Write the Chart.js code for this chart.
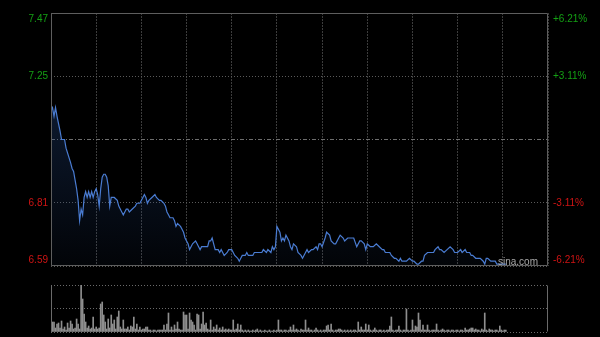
<!DOCTYPE html>
<html><head><meta charset="utf-8">
<script src="https://cdn.jsdelivr.net/npm/chart.js@4.4.1/dist/chart.umd.min.js"></script>
<style>
html,body{margin:0;padding:0;background:#000;width:600px;height:337px;overflow:hidden;}
#c1{position:absolute;left:0;top:0;}
#c2{position:absolute;left:0;top:280px;}
</style></head><body>
<canvas id="c1" width="600" height="270"></canvas>
<canvas id="c2" width="600" height="57"></canvas>
<script>
// ---- data ----
const prevClose = 7.03;
const pctTicks = [-6.21, -3.11, 3.11, 6.21];
const sessionMinutes = 330;
const gridStep = 30;
const watermark = 'sina.com';

const priceMinutes = [
  0,1,2,3,4,6,7,9,10,13,
  14,15,16,17,18,19,20,21,22,23,
  24,25,26,27,28,29,30,31,32,33,
  34,35,36,37,38,39,40,42,44,45,
  47,48,50,51,52,54,56,57,59,61,
  62,63,64,65,67,69,70,72,73,75,
  76,77,78,79,81,82,83,84,86,87,
  88,89,90,91,92,93,94,96,97,98,
  99,100,102,104,105,106,107,108,109,111,
  112,113,114,115,117,118,120,121,122,124,
  125,126,127,129,130,131,132,134,135,137,
  138,140,141,143,144,146,147,148,149,150,
  152,153,154,155,156,158,159,160,161,163,
  164,166,167,169,170,171,173,174,176,177,
  178,179,180,182,183,185,186,188,189,191,
  192,194,195,197,198,201,203,205,206,208,
  209,210,212,214,216,218,220,221,222,223,
  225,226,228,229,231,232,233,234,236,238,
  240,241,243,244,246,247,248,250,252,254,
  255,257,258,259,261,263,265,267,268,270,
  272,273,275,276,278,279,280,282,283,285,
  287,288,289,290,292,294,295,296,298,300,
  302
];
const prices = [
  7.13,7.14,7.11,7.14,7.11,7.06,7.03,7.03,7.00,6.95,
  6.93,6.92,6.89,6.86,6.82,6.75,6.79,6.77,6.83,6.85,
  6.83,6.85,6.83,6.85,6.83,6.85,6.86,6.84,6.80,6.86,
  6.90,6.91,6.91,6.90,6.87,6.80,6.83,6.83,6.82,6.80,
  6.78,6.77,6.79,6.79,6.78,6.79,6.80,6.81,6.81,6.83,
  6.84,6.83,6.81,6.82,6.83,6.84,6.83,6.82,6.82,6.81,
  6.80,6.78,6.77,6.76,6.76,6.75,6.73,6.74,6.73,6.72,
  6.71,6.69,6.68,6.67,6.65,6.66,6.67,6.68,6.67,6.66,
  6.65,6.66,6.66,6.66,6.68,6.68,6.69,6.67,6.65,6.65,
  6.64,6.65,6.64,6.63,6.64,6.65,6.65,6.64,6.63,6.62,
  6.61,6.62,6.63,6.63,6.64,6.63,6.63,6.63,6.64,6.64,
  6.64,6.64,6.65,6.64,6.65,6.64,6.66,6.65,6.66,6.73,
  6.71,6.68,6.69,6.68,6.70,6.68,6.66,6.65,6.67,6.66,
  6.64,6.63,6.62,6.64,6.65,6.64,6.65,6.65,6.66,6.65,
  6.67,6.67,6.66,6.69,6.71,6.70,6.68,6.67,6.67,6.69,
  6.70,6.69,6.68,6.69,6.69,6.69,6.66,6.68,6.68,6.67,
  6.65,6.67,6.66,6.66,6.67,6.66,6.65,6.65,6.64,6.64,
  6.64,6.63,6.62,6.62,6.61,6.62,6.61,6.61,6.61,6.62,
  6.61,6.61,6.60,6.60,6.61,6.61,6.63,6.64,6.64,6.64,
  6.65,6.66,6.65,6.65,6.64,6.65,6.66,6.65,6.64,6.64,
  6.65,6.64,6.65,6.64,6.64,6.63,6.63,6.62,6.62,6.62,
  6.61,6.60,6.62,6.62,6.61,6.61,6.61,6.60,6.60,6.60,
  6.60
];
// volume per minute (index = minute), relative units
const volumes = [
  29,10,10,4,8,9,4,11,3,5,
  2,9,4,11,8,3,4,13,8,3,
  47,33,18,10,4,6,3,4,15,3,
  5,3,4,28,30,17,10,3,13,4,
  17,8,12,3,15,21,5,3,12,3,
  3,5,2,6,5,15,3,8,2,5,
  2,3,3,5,5,2,2,1,2,2,
  1,2,2,2,2,7,2,8,19,2,
  5,2,7,3,10,3,2,2,20,17,
  17,3,19,12,10,7,2,18,17,3,
  8,20,7,9,3,2,12,2,5,3,
  7,2,4,2,5,2,3,2,3,2,
  2,12,2,3,8,2,7,2,1,2,
  1,2,1,1,2,1,2,3,1,2,
  1,1,2,1,1,2,1,1,2,1,
  2,12,2,2,1,2,2,1,2,5,
  2,7,2,3,2,1,3,2,2,12,
  2,4,2,2,1,2,4,2,1,2,
  1,2,2,6,7,2,8,2,1,2,
  2,3,3,2,1,2,1,2,1,2,
  1,2,2,1,10,2,5,2,2,8,
  2,7,2,1,2,4,2,1,2,2,
  1,2,1,2,2,6,15,2,1,2,
  2,6,2,1,2,2,23,2,1,2,
  12,2,6,5,19,12,2,7,2,2,
  7,2,1,2,2,2,8,2,1,2,
  3,2,1,2,2,1,2,2,1,2,
  2,1,2,2,1,4,2,2,3,4,
  4,2,3,2,2,1,3,2,19,2,
  1,3,2,2,1,2,2,1,6,2,
  1,2,2
];
const volumeMax = 47;

// ---- rendering ----
const FONT = {family: "'Liberation Sans', Arial, sans-serif", size: 10};
const UP = '#14a014', DOWN = '#d01414';
const tickValues = pctTicks.map(p => prevClose * (1 + p / 100));
const yMin = tickValues[0], yMax = tickValues[tickValues.length - 1];
const setTicks = vals => s => { s.ticks = vals.map(v => ({value: v})); };
const edgeLabel = (txt, i, n) => i === n - 1 ? ['', txt] : (i === 0 ? [txt, ''] : txt);
const pctOf = v => (v / prevClose - 1) * 100;
const fitV = w => s => { s.width = w; s.paddingTop = 0; s.paddingBottom = 0; };
const fitH = h => s => { s.height = h; s.paddingLeft = 0; s.paddingRight = 0; };

const framePlugin = {
  id: 'frame',
  afterDatasetsDraw(chart, args, opts) {
    const {ctx, chartArea: a} = chart;
    ctx.save();
    ctx.lineWidth = 1;
    ctx.strokeStyle = opts.color;
    const L = Math.round(a.left) + 0.5, R = Math.round(a.right) - 0.5;
    const T = Math.round(a.top) + 0.5, B = Math.round(a.bottom) - 0.5;
    ctx.beginPath();
    opts.sides.forEach(s => {
      if (s === 'left') { ctx.moveTo(L, T); ctx.lineTo(L, B); }
      if (s === 'right') { ctx.moveTo(R, T); ctx.lineTo(R, B); }
      if (s === 'top') { ctx.moveTo(L, T); ctx.lineTo(R, T); }
      if (s === 'bottom') { ctx.moveTo(L, B); ctx.lineTo(R, B); }
    });
    ctx.stroke();
    if (opts.text) {
      ctx.font = "10px 'Liberation Sans', Arial, sans-serif";
      ctx.fillStyle = '#a8a8a8';
      ctx.textAlign = 'right';
      ctx.textBaseline = 'alphabetic';
      ctx.fillText(opts.text, a.right - 10, a.bottom - 1);
    }
    ctx.restore();
  }
};

new Chart(document.getElementById('c1'), {
  type: 'line',
  plugins: [framePlugin],
  data: {
    datasets: [{
      data: priceMinutes.map((m, i) => ({x: m, y: prices[i]})),
      borderColor: '#4a7cd2',
      borderWidth: 1.2,
      pointRadius: 0,
      tension: 0,
      fill: 'start',
      backgroundColor: (c) => {
        const ch = c.chart, a = ch.chartArea;
        if (!a) return 'rgba(0,0,0,0)';
        const g = ch.ctx.createLinearGradient(0, a.top + 90, 0, a.bottom);
        g.addColorStop(0, 'rgba(35,70,130,0.36)');
        g.addColorStop(1, 'rgba(35,70,130,0.06)');
        return g;
      },
      yAxisID: 'y', xAxisID: 'x'
    }]
  },
  options: {
    responsive: false, animation: false, devicePixelRatio: 1,
    layout: {padding: {top: 13, bottom: 4, left: 0, right: 0}},
    plugins: {legend: {display: false}, tooltip: {enabled: false},
      frame: {color: '#5e5e5e', sides: ['left', 'right', 'top', 'bottom'], text: watermark}},
    scales: {
      x: {type: 'linear', min: 0, max: sessionMinutes, offset: false,
        ticks: {display: false, stepSize: gridStep},
        grid: {color: '#3c3c3c', drawTicks: false, offset: false},
        border: {display: false, dash: [2, 1]},
        afterFit: fitH(0)},
      y: {type: 'linear', position: 'left', min: yMin, max: yMax,
        afterBuildTicks: setTicks(tickValues),
        ticks: {font: FONT, padding: 3, autoSkip: false,
          color: c => (c.tick && c.tick.value > prevClose) ? UP : DOWN,
          callback: (v, i, t) => edgeLabel(Number(v).toFixed(2), i, t.length)},
        grid: {color: '#5a5a5a', drawTicks: false},
        border: {display: false, dash: [1, 2]},
        afterFit: fitV(51)},
      yPC: {type: 'linear', position: 'left', min: yMin, max: yMax,
        afterBuildTicks: setTicks([prevClose]),
        ticks: {display: false},
        grid: {color: '#6e6e6e', drawTicks: false},
        border: {display: false, dash: [4, 2, 1, 2]},
        afterFit: fitV(0)},
      yR: {type: 'linear', position: 'right', min: yMin, max: yMax,
        afterBuildTicks: setTicks(tickValues),
        ticks: {font: FONT, padding: 5, autoSkip: false,
          color: c => (c.tick && c.tick.value > prevClose) ? UP : DOWN,
          callback: (v, i, t) => {
            const p = pctOf(v);
            return edgeLabel((p > 0 ? '+' : '') + p.toFixed(2) + '%', i, t.length);
          }},
        grid: {drawOnChartArea: false, drawTicks: false},
        border: {display: false},
        afterFit: fitV(52)}
    }
  }
});

new Chart(document.getElementById('c2'), {
  type: 'bar',
  plugins: [framePlugin],
  data: {
    datasets: [{
      data: volumes.map((v, i) => ({x: i, y: v})),
      backgroundColor: '#8e8e8e',
      borderWidth: 0,
      barThickness: 1
    }]
  },
  options: {
    responsive: false, animation: false, devicePixelRatio: 1,
    layout: {padding: {top: 5, bottom: 5, left: 0, right: 52}},
    plugins: {legend: {display: false}, tooltip: {enabled: false},
      frame: {color: '#6a6a6a', sides: ['left', 'right']}},
    scales: {
      x: {type: 'linear', min: 0, max: sessionMinutes, offset: false, display: false,
        grid: {offset: false}},
      y: {type: 'linear', position: 'left', min: 0, max: volumeMax,
        afterBuildTicks: setTicks([0, volumeMax / 2, volumeMax]),
        ticks: {display: false},
        grid: {color: '#6a6a6a', drawTicks: false},
        border: {display: false, dash: [1, 2]},
        afterFit: fitV(51)}
    }
  }
});
</script>
</body></html>
